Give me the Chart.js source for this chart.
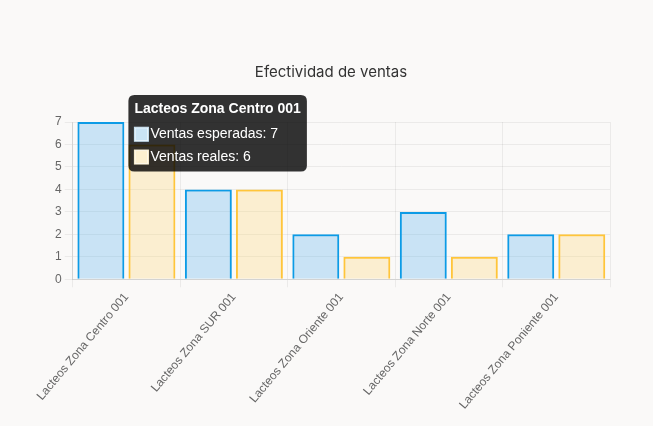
<!DOCTYPE html>
<html><head><meta charset="utf-8">
<script src="https://cdn.jsdelivr.net/npm/chart.js@4"></script>
<style>html,body{margin:0;background:#faf9f8;}#w{width:653px;height:426px;}</style>
</head><body><div id="w"><canvas id="c"></canvas></div>
<script>
const categories = ["Lacteos Zona Centro 001","Lacteos Zona SUR 001","Lacteos Zona Oriente 001","Lacteos Zona Norte 001","Lacteos Zona Poniente 001"];
const ventasEsperadas = [7,4,2,3,2];
const ventasReales = [6,4,1,1,2];
const fills = ['rgba(54,162,235,0.25)','rgba(255,206,86,0.25)'];
const chart = new Chart(document.getElementById('c'), {
  type: 'bar',
  data: { labels: categories, datasets: [
    {label:'Ventas esperadas', data: ventasEsperadas, backgroundColor:fills[0], hoverBackgroundColor:fills[0], borderColor:'#0c9be6', hoverBorderColor:'#0c9be6', borderWidth:2, categoryPercentage:0.95, barPercentage:0.92},
    {label:'Ventas reales', data: ventasReales, backgroundColor:fills[1], hoverBackgroundColor:fills[1], borderColor:'#ffc53a', hoverBorderColor:'#ffc53a', borderWidth:2, categoryPercentage:0.95, barPercentage:0.92}
  ]},
  options: {
    responsive:true, maintainAspectRatio:false, animation:false,
    layout:{padding:{left:52,right:43,top:63,bottom:11}},
    plugins:{
      legend:{display:false},
      title:{display:true,text:'Efectividad de ventas',color:'#333',font:{family:'Inter',size:15,weight:'normal'},padding:{top:0,bottom:41}},
      tooltip:{backgroundColor:'rgba(0,0,0,0.8)',titleFont:{family:'Liberation Sans',size:14,weight:'bold'},bodyFont:{family:'Liberation Sans',size:14},caretSize:0,cornerRadius:6,padding:6,bodySpacing:6,titleMarginBottom:8,
        callbacks:{labelColor:(ctx)=>({backgroundColor:['#c9e4f5','#fdf0cf'][ctx.datasetIndex],borderColor:['#c9e4f5','#fdf0cf'][ctx.datasetIndex],borderWidth:0})}}
    },
    scales:{
      x:{ticks:{color:'#666',font:{family:'Liberation Sans',size:12},maxRotation:50,minRotation:50},grid:{color:'rgba(0,0,0,0.06)'}},
      y:{beginAtZero:true,max:7,ticks:{stepSize:1,color:'#666',font:{family:'Liberation Sans',size:12}},grid:{color:'rgba(0,0,0,0.06)'}}
    }
  }
});
chart.tooltip.setActiveElements([{datasetIndex:0,index:0},{datasetIndex:1,index:0}],{x:192,y:158});
chart.update();
</script></body></html>
